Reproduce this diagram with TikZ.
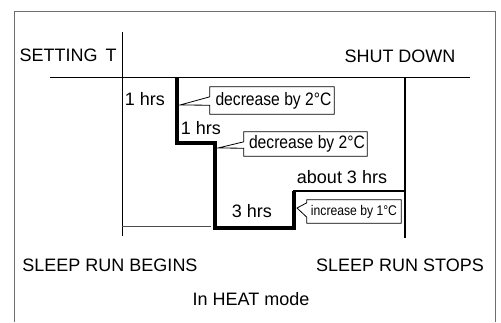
\documentclass[tikz,border=0pt]{standalone}
\usepackage{fontspec}
\setmainfont{Liberation Sans}
\newfontfamily\narrowfont[FakeStretch=0.87]{Liberation Sans}
\usepackage{tikz}
\usetikzlibrary{calc,positioning}
\definecolor{framegray}{RGB}{110,110,110}
\tikzstyle{lbl}=[inner sep=0pt,font=\fontsize{18}{20}\selectfont]
\tikzstyle{tagbox}=[inner sep=0pt,font=\narrowfont\fontsize{18}{20}\selectfont]
\tikzstyle{tagline}=[draw=black,line width=0.8pt,fill=white,line join=miter]
\tikzstyle{stepline}=[line width=3.4pt,line join=miter]

\begin{document}
\begin{tikzpicture}[x=1pt,y=-1pt]
      \useasboundingbox (0,0) rectangle (501,322);
      \draw[framegray,line width=1pt] (14,322) -- (14,11) -- (495,11) -- (495,322);

      % axes and markers
      \coordinate (ax1) at (50,77.5);
      \coordinate (ax2) at (470,77.5);
      \coordinate (vb1) at (122,32);
      \coordinate (vb2) at (122,236);
      \coordinate (hb1) at (122,226);
      \coordinate (hb2) at (211,226);
      \coordinate (vs1) at (405,77.5);
      \coordinate (vs2) at (405,238);
      \draw[line width=1.4pt] (ax1) -- (ax2);
      \draw[line width=0.6pt] (vb1) -- (vb2);
      \draw[line width=0.6pt,black!70] (hb1) -- (hb2);
      \draw[line width=1.6pt] (vs1) -- (vs2);

      % temperature steps
      \coordinate (t0) at (177,77.5);
      \coordinate (t1) at (177,143);
      \coordinate (t2) at (215,143);
      \coordinate (t3) at (215,228);
      \coordinate (t4) at (294,228);
      \coordinate (t5) at (294,191);
      \coordinate (t6) at (405,191);
      \draw[stepline] (t0) -- (t1) -- (t2) -- (t3) -- (t4) -- (t5);
      \draw[line width=1.5pt] ([xshift=-0.8pt]t5) -- (t6);

      % texts
      \node[lbl] (set) at (68,55) {SETTING\, T};
      \node[lbl] (shut) at (400,56) {SHUT DOWN};
      \node[lbl] (h1) at (145,99) {1 hrs};
      \node[lbl] (h2) at (201,128) {1 hrs};
      \node[lbl] (h3) at (252,211) {3 hrs};
      \node[lbl] (h4) at (342,177) {about 3 hrs};
      \node[lbl] (begin) at (110,265) {SLEEP RUN BEGINS};
      \node[lbl] (stop) at (400,265) {SLEEP RUN STOPS};
      \node[lbl] (mode) at (251,299) {In HEAT mode};

      % callouts
      \coordinate (p1) at (180,105);
      \coordinate (p2) at (218,148);
      \coordinate (p3) at (297,208);
      \node[tagbox,minimum width=124pt,minimum height=27pt] (b1) at (272,100.5) {};
      \node[tagbox,minimum width=123pt,minimum height=24pt] (b2) at (305.5,144) {};
      \node[tagbox,minimum width=94pt,minimum height=23pt] (b3) at (354,211.5) {};
      \draw[tagline] (b1.north west) -- (b1.north east) -- (b1.south east) -- (b1.south west)
        -- ([yshift=9pt]b1.south west) -- (p1) -- ([yshift=-10pt]b1.north west) -- cycle;
      \draw[tagline] (b2.north west) -- (b2.north east) -- (b2.south east) -- (b2.south west)
        -- ([yshift=8pt]b2.south west) -- (p2) -- ([yshift=-10pt]b2.north west) -- cycle;
      \draw[tagline] (b3.north west) -- (b3.north east) -- (b3.south east) -- (b3.south west)
        -- ([yshift=6pt]b3.south west) -- (p3) -- ([yshift=-3pt]b3.north west) -- cycle;
      \node[tagbox,xshift=1.5pt] at (b1) {decrease by 2°C};
      \node[tagbox,xshift=1.5pt] at (b2) {decrease by 2°C};
      \node[tagbox,font=\narrowfont\fontsize{14}{16}\selectfont] at (b3) {increase by 1°C};
    \end{tikzpicture}
\end{document}
